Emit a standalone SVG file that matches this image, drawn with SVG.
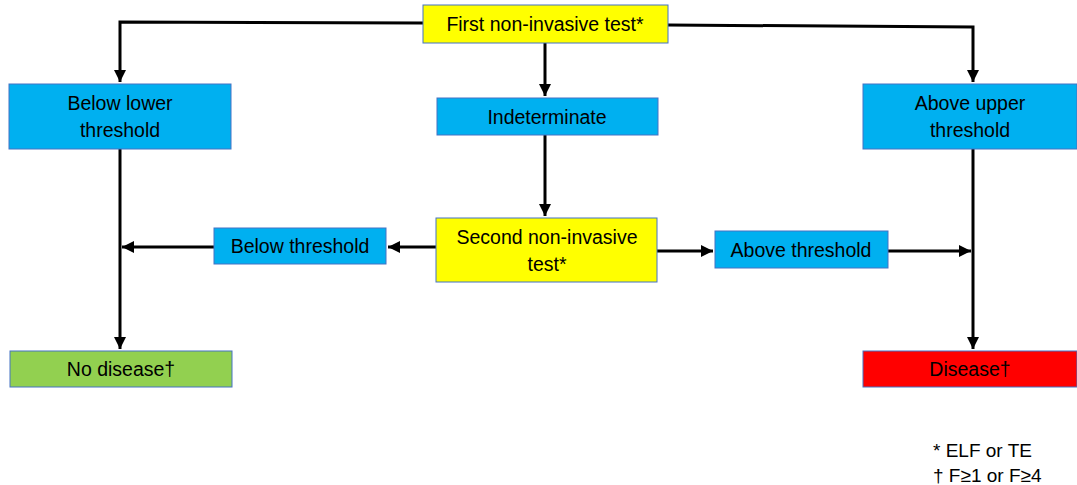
<svg xmlns="http://www.w3.org/2000/svg" width="1077" height="485" viewBox="0 0 1077 485">
<defs>
<marker id="ah" viewBox="0 0 10 10" refX="10" refY="5" markerWidth="4" markerHeight="4" orient="auto" markerUnits="strokeWidth">
<path d="M0,0 L10,5 L0,10 Z" fill="#000"/>
</marker>
<style>
.box{stroke:#4472C4;stroke-width:1}
.blue{fill:#00B0F0}
.yellow{fill:#FFFF00}
.green{fill:#92D050}
.red{fill:#FF0000}
text{font-family:"Liberation Sans",Arial,sans-serif;font-size:19.5px;fill:#000;text-anchor:middle}
.foot{text-anchor:start;font-size:19px}
.ln{stroke:#000;stroke-width:3;fill:none}
.arr{marker-end:url(#ah)}
</style>
</defs>
<rect width="1077" height="485" fill="#fff"/>
<g id="connectors">
<polyline class="ln arr" points="423,23 120,22 120,82"/>
<polyline class="ln arr" points="668,25 973,27 973,82"/>
<line class="ln arr" x1="545" y1="43" x2="545" y2="96"/>
<line class="ln arr" x1="545" y1="135" x2="545" y2="216"/>
<line class="ln arr" x1="120" y1="149" x2="120" y2="349"/>
<line class="ln arr" x1="973" y1="149" x2="973" y2="349"/>
<line class="ln arr" x1="436" y1="247" x2="388" y2="247"/>
<line class="ln arr" x1="214" y1="247" x2="122" y2="247"/>
<line class="ln arr" x1="657" y1="251" x2="713" y2="251"/>
<line class="ln arr" x1="888" y1="251" x2="971" y2="251"/>
</g>
<g id="first">
<rect class="box yellow" x="423" y="5" width="245" height="38"/>
<text x="545" y="31">First non-invasive test*</text>
</g>
<g id="below-lower">
<rect class="box blue" x="9" y="84" width="222" height="65"/>
<text x="120" y="110">Below lower</text>
<text x="120" y="137">threshold</text>
</g>
<g id="indeterminate">
<rect class="box blue" x="437" y="98" width="221" height="37"/>
<text x="547" y="124">Indeterminate</text>
</g>
<g id="above-upper">
<rect class="box blue" x="863" y="84" width="214" height="65"/>
<text x="970" y="110">Above upper</text>
<text x="970" y="137">threshold</text>
</g>
<g id="second">
<rect class="box yellow" x="436" y="218" width="221" height="64"/>
<text x="547" y="244">Second non-invasive</text>
<text x="547" y="271">test*</text>
</g>
<g id="below">
<rect class="box blue" x="214" y="228" width="172" height="36"/>
<text x="300" y="253">Below threshold</text>
</g>
<g id="above">
<rect class="box blue" x="715" y="231" width="173" height="37"/>
<text x="801" y="257">Above threshold</text>
</g>
<g id="no-disease">
<rect class="box green" x="10" y="351" width="222" height="36"/>
<text x="121" y="376">No disease†</text>
</g>
<g id="disease">
<rect class="box red" x="863" y="351" width="214" height="36"/>
<text x="970" y="376">Disease†</text>
</g>
<g id="footnotes">
<text class="foot" x="933" y="457">* ELF or TE</text>
<text class="foot" x="933" y="482">† F≥1 or F≥4</text>
</g>
</svg>
